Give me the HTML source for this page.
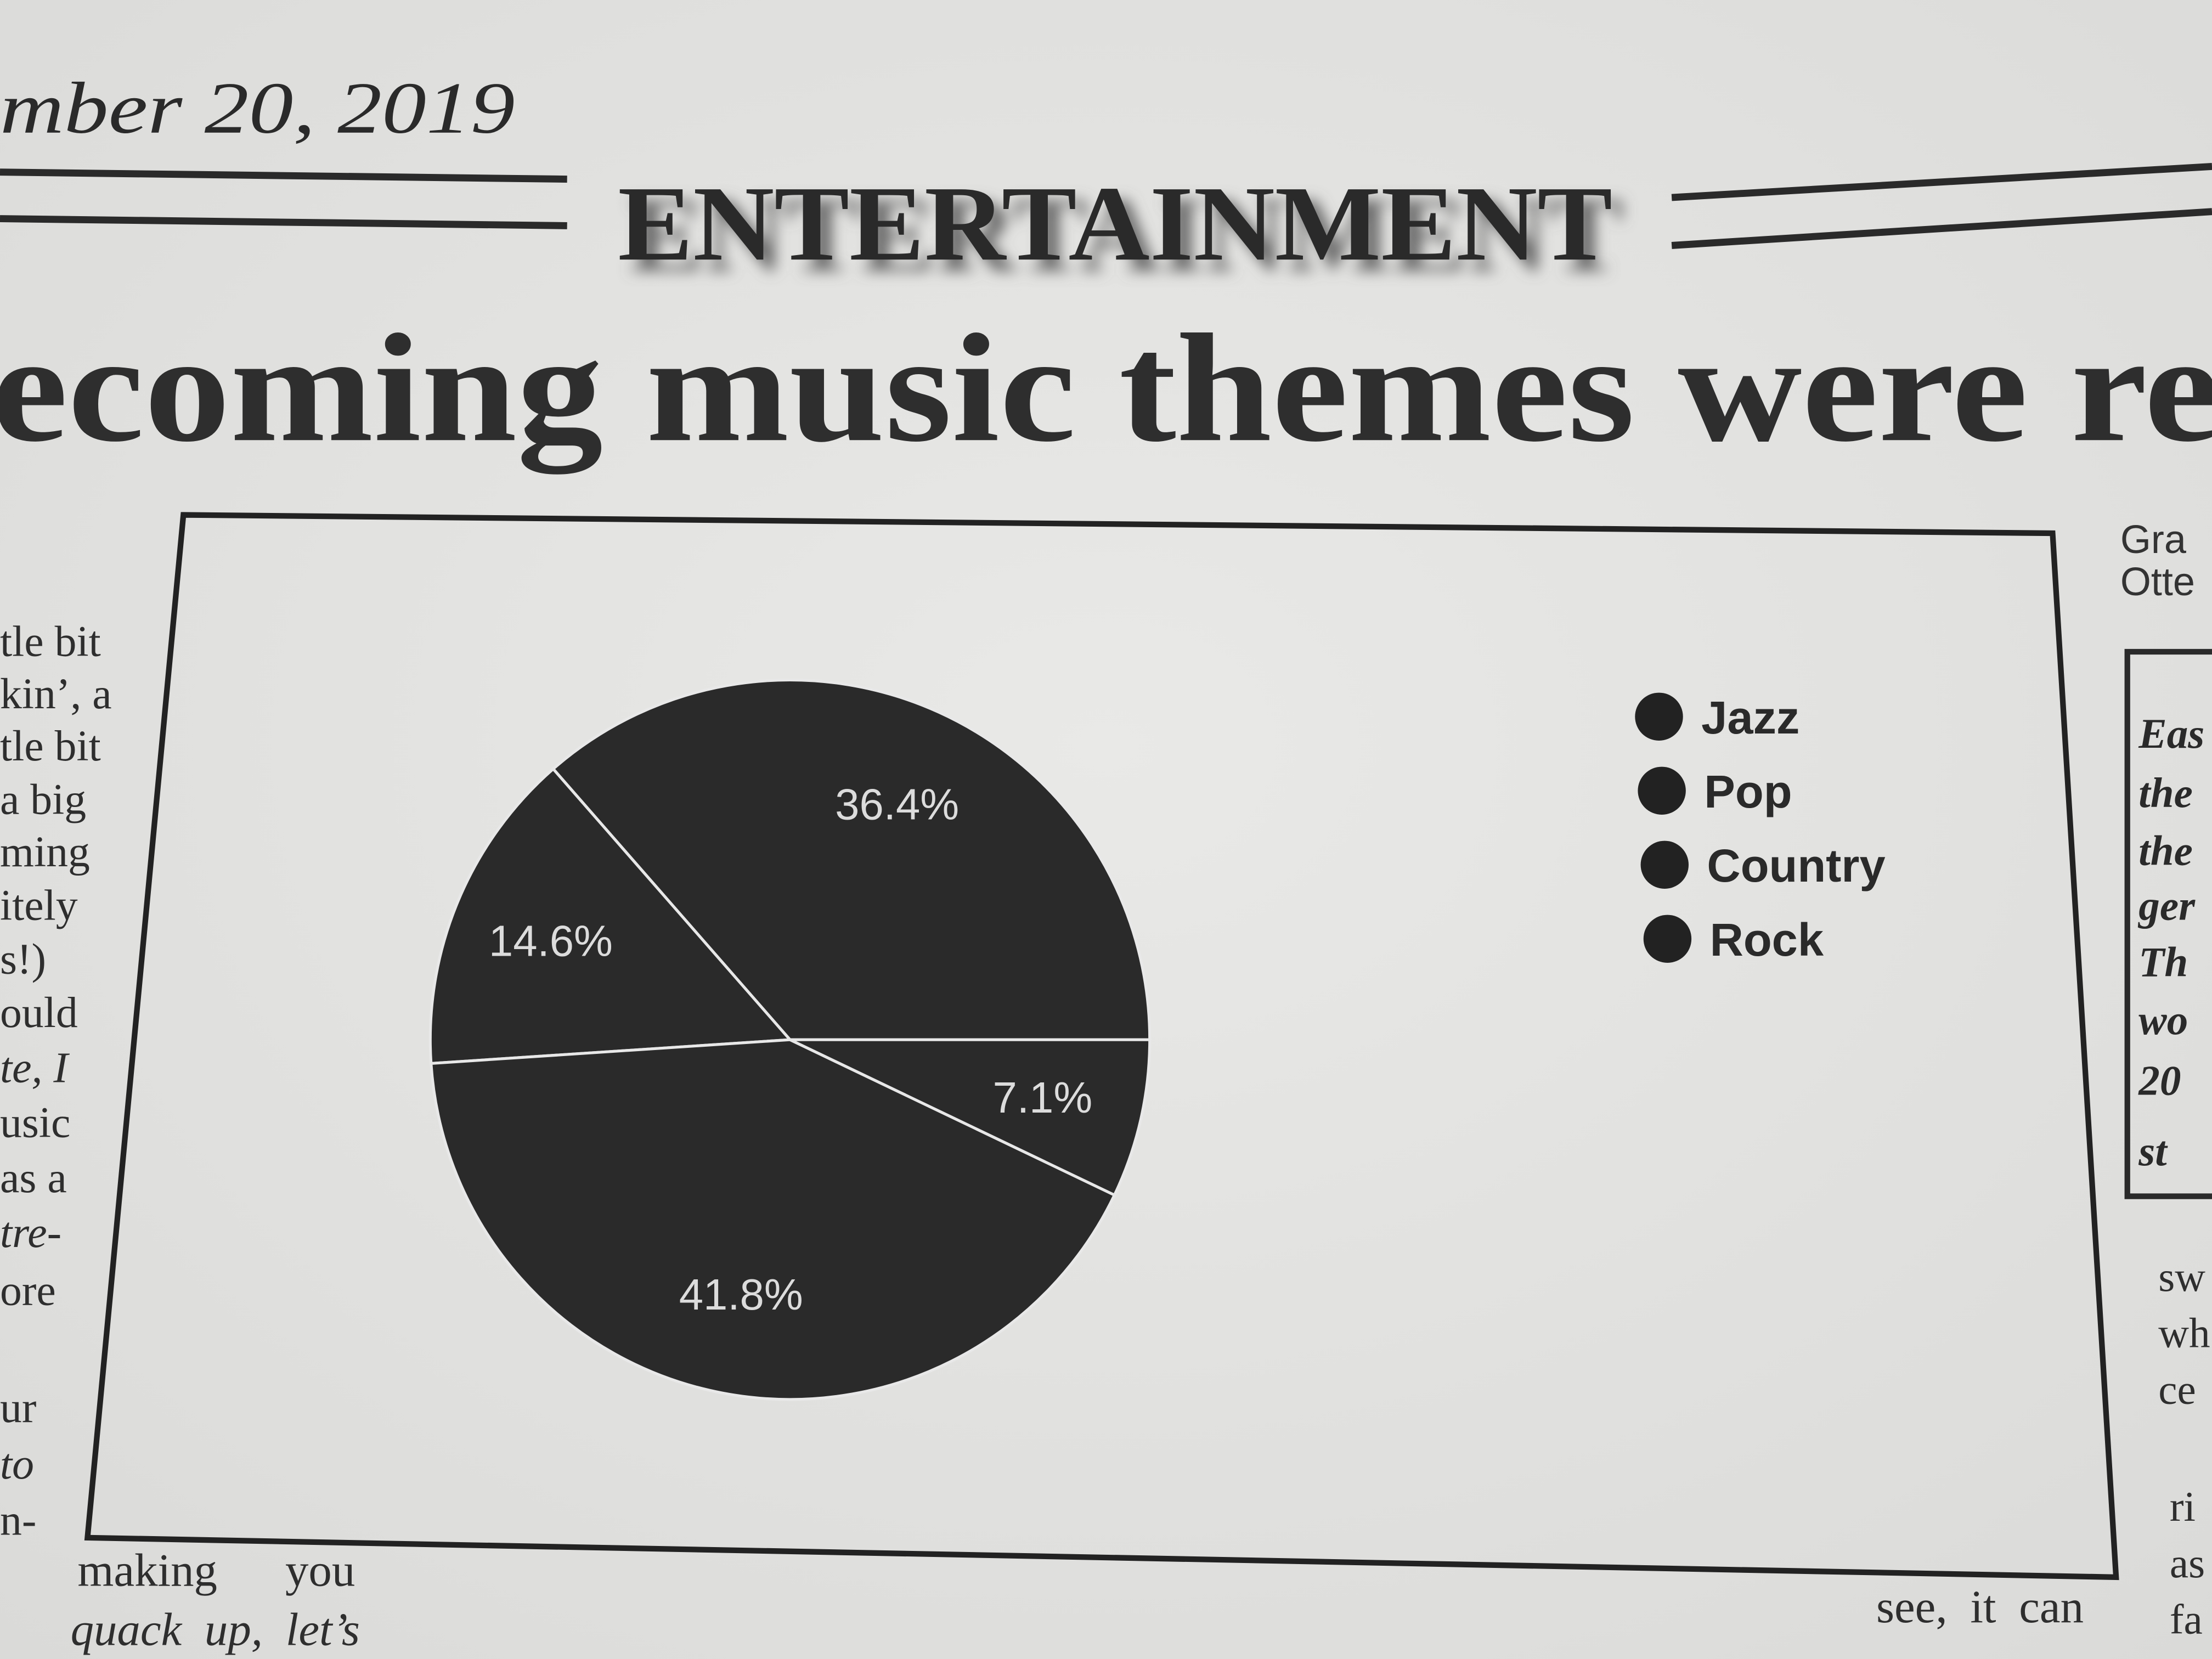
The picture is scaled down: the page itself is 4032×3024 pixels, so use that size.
<!DOCTYPE html>
<html><head><meta charset="utf-8">
<style>
html,body{margin:0;padding:0;width:4032px;height:3024px;overflow:hidden;background:#e4e4e2;}
svg{display:block}
</style></head>
<body>
<svg id="page" width="4032" height="3024" viewBox="0 0 1568 1176" xmlns="http://www.w3.org/2000/svg">
  <defs>
    <radialGradient id="bg" cx="0.5" cy="0.45" r="0.8">
      <stop offset="0" stop-color="#e9e9e7"/>
      <stop offset="1" stop-color="#d9d9d7"/>
    </radialGradient>
    <filter id="blur" x="-10%" y="-50%" width="120%" height="200%"><feGaussianBlur stdDeviation="5"/></filter>
  </defs>
  <rect x="0" y="0" width="1568" height="1176" fill="url(#bg)"/>
  <text x="0" y="94" font-family="Liberation Serif, serif" font-style="italic" font-size="52" fill="#2a2a2a" textLength="365" lengthAdjust="spacingAndGlyphs">mber 20, 2019</text>
  <g stroke="#2a2a2a" stroke-width="5">
    <line x1="0" y1="122" x2="402" y2="127"/>
    <line x1="0" y1="155" x2="402" y2="160"/>
    <line x1="1185" y1="140" x2="1568" y2="118"/>
    <line x1="1185" y1="174" x2="1568" y2="150"/>
  </g>
  <text x="446" y="192" font-family="Liberation Serif, serif" font-weight="bold" font-size="76" fill="#666" filter="url(#blur)" textLength="705" lengthAdjust="spacingAndGlyphs">ENTERTAINMENT</text>
  <text x="438" y="184" font-family="Liberation Serif, serif" font-weight="bold" font-size="76" fill="#2a2a2a" textLength="705" lengthAdjust="spacingAndGlyphs">ENTERTAINMENT</text>
  <text x="-6" y="312" font-family="Liberation Serif, serif" font-weight="bold" font-size="110" fill="#2e2e2e" textLength="1580" lengthAdjust="spacingAndGlyphs">ecoming music themes were re</text>

  <g font-family="Liberation Serif, serif" font-size="31" fill="#2e2e2e">
    <text x="0" y="465">tle bit</text><text x="0" y="502">kin’, a</text><text x="0" y="539">tle bit</text>
    <text x="0" y="577">a big</text><text x="0" y="614">ming</text><text x="0" y="652">itely</text>
    <text x="0" y="690">s!)</text><text x="0" y="728">ould</text><text x="0" y="767" font-style="italic">te, I</text>
    <text x="0" y="806">usic</text><text x="0" y="845">as a</text><text x="0" y="884" font-style="italic">tre-</text>
    <text x="0" y="925">ore</text><text x="0" y="1008">ur</text><text x="0" y="1048" font-style="italic">to</text>
    <text x="0" y="1088">n-</text>
  </g>
  <g font-family="Liberation Serif, serif" font-size="33" fill="#2e2e2e">
    <text x="55" y="1124" word-spacing="40">making you</text>
    <text x="50" y="1166" font-style="italic" word-spacing="8">quack up, let’s</text>
    <text x="1330" y="1150" word-spacing="8">see, it can</text>
  </g>
  <g>
    <text x="1503" y="392" font-family="Liberation Sans, sans-serif" font-size="28" fill="#333">Gra</text>
    <text x="1503" y="422" font-family="Liberation Sans, sans-serif" font-size="28" fill="#333">Otte</text>
    <polyline points="1568,462 1508,462 1508,848 1568,848" fill="none" stroke="#2a2a2a" stroke-width="4"/>
    <g font-family="Liberation Serif, serif" font-weight="bold" font-style="italic" font-size="30" fill="#2a2a2a">
      <text x="1516" y="530">Eas</text><text x="1516" y="572">the</text><text x="1516" y="613">the</text>
      <text x="1516" y="652">ger</text><text x="1516" y="692">Th</text><text x="1516" y="733">wo</text>
      <text x="1516" y="776">20</text><text x="1516" y="826">st</text>
    </g>
    <g font-family="Liberation Serif, serif" font-size="30" fill="#2e2e2e">
      <text x="1530" y="915">sw</text><text x="1530" y="955">wh</text><text x="1530" y="995">ce</text>
      <text x="1538" y="1078">ri</text><text x="1538" y="1118">as</text><text x="1538" y="1158">fa</text>
    </g>
  </g>

  <polygon points="130,365 1455,378 1500,1118 62,1090" fill="none" stroke="#222" stroke-width="4"/>
  <g id="pie"></g>
  <g id="legend"></g>
</svg>
<script>
const categories = ["Jazz", "Pop", "Country", "Rock"];
const values = [36.4, 14.6, 41.8, 7.1];
const valueLabels = ["36.4%", "14.6%", "41.8%", "7.1%"];

const NS = "http://www.w3.org/2000/svg";
const cx = 560, cy = 737, R = 255;
const total = values.reduce((a, b) => a + b, 0);
function angleOf(v) { return v / total * Math.PI * 2; }
function pt(a, r) { return [cx + r * Math.cos(a), cy - r * Math.sin(a)]; }

const pie = document.getElementById("pie");
let start = 0;
values.forEach((v, i) => {
  const a = angleOf(v);
  const end = start + a;
  const p0 = pt(start, R), p1 = pt(end, R);
  const large = a > Math.PI ? 1 : 0;
  const path = document.createElementNS(NS, "path");
  path.setAttribute("d", `M${cx},${cy} L${p0[0]},${p0[1]} A${R},${R} 0 ${large} 0 ${p1[0]},${p1[1]} Z`);
  path.setAttribute("fill", "#2a2a2a");
  path.setAttribute("stroke", "#e8e8e8");
  path.setAttribute("stroke-width", "2");
  
  
  pie.appendChild(path);
  const mid = start + a / 2;
  const lp = pt(mid, R * 0.72);
  const t = document.createElementNS(NS, "text");
  t.setAttribute("x", lp[0]);
  t.setAttribute("y", lp[1] + 11);
  t.setAttribute("text-anchor", "middle");
  t.setAttribute("font-family", "Liberation Sans, sans-serif");
  t.setAttribute("font-size", "31");
  t.setAttribute("fill", "#dcdcdc");
  t.textContent = valueLabels[i];
  
  
  pie.appendChild(t);
  start = end;
});

const legend = document.getElementById("legend");
categories.forEach((c, i) => {
  const y = 508 + i * 52.5;
  const x = 1176 + i * 2;
  const g = document.createElementNS(NS, "g");
  
  
  const dot = document.createElementNS(NS, "circle");
  dot.setAttribute("cx", x);
  dot.setAttribute("cy", y);
  dot.setAttribute("r", "17");
  dot.setAttribute("fill", "#222");
  
  
  const t = document.createElementNS(NS, "text");
  t.setAttribute("x", x + 30);
  t.setAttribute("y", y + 12);
  t.setAttribute("font-family", "Liberation Sans, sans-serif");
  t.setAttribute("font-size", "33");
  t.setAttribute("font-weight", "bold");
  t.setAttribute("fill", "#2a2a2a");
  t.textContent = c;
  
  
  g.appendChild(dot);
  g.appendChild(t);
  legend.appendChild(g);
});
</script>
</body></html>
